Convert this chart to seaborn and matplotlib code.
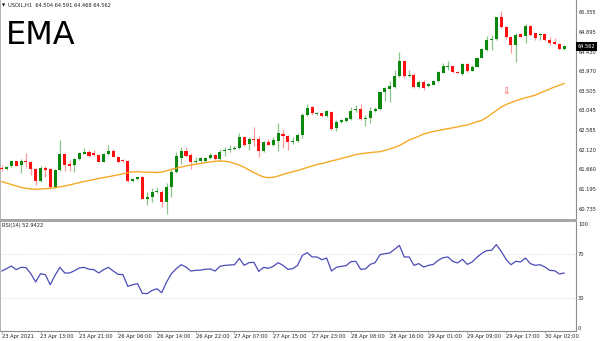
import numpy as np
import pandas as pd
import matplotlib
matplotlib.use("Agg")
import matplotlib.pyplot as plt
import matplotlib.transforms as mtransforms
from matplotlib.patches import Rectangle
import seaborn as sns

symbol = "USOIL,H1"
header_ohlc = ["64.504", "64.591", "64.468", "64.562"]
title = "EMA"
rsi_title = "RSI(14) 52.9422"
last_price = 64.562

opens = [61.713, 61.682, 61.744, 61.862, 61.768, 61.870, 61.854, 61.682, 61.400, 61.697,
         61.674, 61.251, 61.658, 62.034, 61.791, 61.768, 61.909, 62.042, 62.089, 62.065,
         62.011, 61.854, 62.034, 62.112, 61.971, 61.877, 61.870, 61.407, 61.454, 61.501,
         60.985, 61.016, 61.133, 61.149, 60.914, 61.267, 61.611, 61.950, 62.112, 62.003,
         61.846, 61.870, 61.870, 61.932, 62.003, 61.909, 62.097, 62.128, 62.144, 62.167,
         62.426, 62.261, 62.387, 62.379, 62.112, 62.316, 62.246, 62.347, 62.496, 62.457,
         62.316, 62.347, 62.481, 62.951, 63.131, 62.966, 62.990, 62.927, 63.021, 62.637,
         62.794, 62.817, 62.865, 63.068, 63.084, 62.865, 62.872, 63.052, 63.084, 63.491,
         63.569, 63.616, 63.867, 64.227, 63.859, 63.891, 63.601, 63.734, 63.640, 63.664,
         63.750, 63.945, 64.087, 64.102, 63.969, 63.914, 64.141, 63.992, 64.087, 64.298,
         64.478, 64.721, 64.729, 65.246, 65.011, 64.776, 64.596, 64.846, 64.807, 65.042,
         64.870, 64.831, 64.846, 64.713, 64.658, 64.627, 64.504]
closes = [61.689, 61.729, 61.870, 61.760, 61.862, 61.838, 61.682, 61.400, 61.697, 61.666,
          61.266, 61.658, 62.034, 61.776, 61.760, 61.909, 62.050, 62.081, 61.987, 62.011,
          61.854, 62.034, 62.112, 61.971, 61.854, 61.862, 61.400, 61.454, 61.486, 60.977,
          61.031, 61.133, 61.172, 60.914, 61.267, 61.619, 61.987, 62.112, 61.987, 61.854,
          61.877, 61.932, 61.932, 62.011, 61.909, 62.089, 62.128, 62.159, 62.183, 62.426,
          62.246, 62.387, 62.371, 62.112, 62.316, 62.253, 62.355, 62.520, 62.465, 62.324,
          62.347, 62.481, 62.951, 63.107, 62.990, 62.998, 62.927, 63.037, 62.630, 62.794,
          62.833, 62.880, 63.052, 63.092, 62.849, 62.888, 63.045, 63.099, 63.491, 63.577,
          63.632, 63.867, 64.227, 63.867, 63.891, 63.616, 63.726, 63.593, 63.671, 63.750,
          63.969, 64.102, 64.102, 63.969, 63.945, 64.141, 63.985, 64.087, 64.298, 64.494,
          64.713, 64.737, 65.246, 65.011, 64.776, 64.596, 64.831, 64.791, 65.042, 64.831,
          64.768, 64.846, 64.713, 64.650, 64.627, 64.502, 64.562]
highs = [61.776, 61.752, 61.877, 61.870, 61.909, 62.050, 61.877, 61.697, 61.752, 61.752,
         61.697, 61.682, 62.363, 62.065, 61.893, 61.932, 62.089, 62.183, 62.128, 62.128,
         62.026, 62.065, 62.246, 62.144, 61.987, 61.909, 61.877, 61.478, 61.501, 61.517,
         61.149, 61.227, 61.267, 61.188, 61.345, 61.697, 62.089, 62.191, 62.191, 62.050,
         61.956, 61.956, 61.956, 62.050, 62.026, 62.144, 62.206, 62.246, 62.222, 62.520,
         62.457, 62.426, 62.661, 62.457, 62.347, 62.379, 62.441, 62.755, 62.614, 62.481,
         62.426, 62.520, 62.990, 63.209, 63.162, 63.021, 63.006, 63.068, 63.037, 62.833,
         62.865, 62.912, 63.131, 63.186, 63.209, 62.951, 63.131, 63.131, 63.522, 63.616,
         63.757, 64.008, 64.439, 64.243, 64.008, 63.930, 63.773, 63.773, 63.695, 63.773,
         63.992, 64.180, 64.220, 64.118, 63.985, 64.165, 64.180, 64.125, 64.321, 64.517,
         64.807, 64.831, 65.261, 65.395, 65.042, 64.807, 64.870, 64.870, 65.081, 65.066,
         64.885, 64.870, 64.870, 64.791, 64.768, 64.643, 64.591]
lows = [61.642, 61.658, 61.736, 61.752, 61.595, 61.736, 61.541, 61.306, 61.384, 61.501,
        61.204, 61.227, 61.642, 61.642, 61.635, 61.619, 61.893, 62.034, 61.971, 61.987,
        61.838, 61.838, 62.011, 61.956, 61.830, 61.846, 61.384, 61.384, 61.423, 60.969,
        60.836, 60.914, 61.110, 60.797, 60.624, 61.031, 61.595, 61.799, 61.956, 61.674,
        61.815, 61.854, 61.854, 61.909, 61.893, 61.877, 61.987, 62.089, 62.128, 62.152,
        62.222, 62.128, 62.222, 61.972, 62.089, 62.238, 62.222, 62.112, 62.167, 62.128,
        62.269, 62.324, 62.402, 62.927, 62.951, 62.951, 62.912, 62.896, 62.598, 62.582,
        62.770, 62.794, 62.833, 63.029, 62.833, 62.692, 62.755, 63.029, 63.068, 63.287,
        63.264, 63.577, 63.851, 63.812, 63.836, 63.593, 63.577, 63.538, 63.601, 63.648,
        63.734, 63.930, 64.008, 63.945, 63.930, 63.891, 63.969, 63.977, 64.071, 64.282,
        64.462, 64.478, 64.713, 64.995, 64.729, 64.400, 64.204, 64.776, 64.650, 64.807,
        64.713, 64.713, 64.697, 64.596, 64.596, 64.478, 64.468]
ema = [61.388, 61.352, 61.317, 61.282, 61.251, 61.228, 61.212, 61.204, 61.209, 61.218,
       61.228, 61.244, 61.263, 61.282, 61.306, 61.334, 61.362, 61.388, 61.411, 61.435,
       61.458, 61.479, 61.500, 61.522, 61.545, 61.569, 61.595, 61.616, 61.620, 61.611,
       61.604, 61.604, 61.599, 61.611, 61.639, 61.670, 61.700, 61.728, 61.752, 61.775,
       61.794, 61.813, 61.832, 61.848, 61.862, 61.870, 61.865, 61.846, 61.811, 61.775,
       61.721, 61.658, 61.599, 61.541, 61.494, 61.477, 61.487, 61.517, 61.552, 61.588,
       61.618, 61.646, 61.681, 61.717, 61.752, 61.787, 61.811, 61.839, 61.870, 61.898,
       61.928, 61.959, 61.987, 62.020, 62.039, 62.053, 62.067, 62.079, 62.088, 62.119,
       62.152, 62.187, 62.234, 62.297, 62.363, 62.405, 62.452, 62.504, 62.537, 62.563,
       62.586, 62.607, 62.629, 62.650, 62.673, 62.697, 62.718, 62.756, 62.791, 62.826,
       62.892, 62.974, 63.056, 63.139, 63.197, 63.244, 63.284, 63.322, 63.355, 63.385,
       63.416, 63.468, 63.515, 63.562, 63.609, 63.651, 63.691]
rsi = [54.7, 56.9, 59.3, 56.0, 58.1, 57.8, 52.3, 44.7, 52.3, 51.4,
       42.2, 50.8, 58.1, 52.9, 52.9, 55.0, 57.5, 58.1, 56.3, 56.0,
       52.9, 56.0, 58.1, 54.7, 51.7, 51.4, 40.7, 42.2, 43.1, 34.3,
       34.0, 37.0, 38.5, 34.9, 44.7, 52.3, 56.9, 60.5, 58.4, 54.7,
       55.3, 55.6, 56.3, 56.6, 54.7, 59.0, 59.9, 60.2, 60.5, 66.3,
       59.9, 62.4, 62.7, 54.4, 58.1, 57.2, 59.0, 62.4, 59.9, 56.3,
       56.9, 59.8, 69.1, 71.5, 67.6, 67.6, 65.1, 66.6, 54.7, 58.1,
       59.0, 59.6, 63.3, 63.6, 56.3, 56.6, 60.8, 62.4, 69.7, 70.6,
       71.2, 74.6, 78.2, 67.6, 67.6, 59.9, 61.5, 58.4, 59.9, 60.8,
       64.5, 66.9, 67.6, 63.6, 62.1, 65.4, 60.8, 63.0, 67.3, 70.9,
       73.4, 73.7, 78.9, 72.7, 65.4, 60.5, 63.6, 63.0, 66.6, 61.5,
       59.9, 60.5, 58.4, 55.3, 55.0, 52.0, 52.94]
price_ticks = [65.355, 64.895, 64.430, 63.970, 63.505, 63.045, 62.585, 62.120, 61.660, 61.195, 60.735]
rsi_levels = [70, 30]
rsi_ticks = [100, 70, 30, 0]
time_labels = ["23 Apr 2021", "23 Apr 13:00", "23 Apr 21:00", "26 Apr 06:00", "26 Apr 14:00",
               "26 Apr 22:00", "27 Apr 07:00", "27 Apr 15:00", "27 Apr 23:00", "28 Apr 08:00",
               "28 Apr 16:00", "29 Apr 01:00", "29 Apr 09:00", "29 Apr 17:00", "30 Apr 02:00"]
arrow_bar = 104
arrow_price = 63.48

# ---------------------------------------------------------------------------
sns.set_theme(style="white")
plt.rcParams["font.family"] = ["DejaVu Sans"]

W, H = 600, 341
fig = plt.figure(figsize=(W / 100, H / 100), dpi=100)
fig.patch.set_facecolor("white")

def fx(px):
    return px / W

def fy(py):
    return 1 - py / H

plot_w = 576
ax = fig.add_axes([0, fy(218), fx(plot_w), 218 / H])
ax2 = fig.add_axes([0, fy(331), fx(plot_w), (331 - 222) / H])

n = len(opens)
df = pd.DataFrame({"bar": np.arange(n), "open": opens, "high": highs, "low": lows,
                   "close": closes, "ema": ema, "rsi": rsi})
df["up"] = df["close"] >= df["open"]

GREEN = "#0b870b"
RED = "#ff1010"
GREEN_W = "#8cc48c"
RED_W = "#ff9a9a"

# wicks
for up, wc in [(True, GREEN_W), (False, RED_W)]:
    d = df[df["up"] == up]
    ax.vlines(d["bar"], d["low"], d["high"], color=wc, linewidth=0.9, zorder=2)
# bodies
bottoms = np.minimum(df["open"], df["close"])
heights = np.maximum((df["close"] - df["open"]).abs(), 0.022)
colors = [GREEN if u else RED for u in df["up"]]
ax.bar(df["bar"], heights, bottom=bottoms, width=0.62, color=colors, linewidth=0, zorder=3)

sns.lineplot(data=df, x="bar", y="ema", ax=ax, color="#f7a928", linewidth=1.0, zorder=4, legend=False)

ax.text(arrow_bar, arrow_price, "\u21e9", color="#ff3b3b", fontsize=6.5, ha="center", va="center", zorder=5)

xl = (-1.7 / 4.85, (plot_w - 1.7) / 4.85)
ax.set_xlim(*xl)
ax.set_ylim(65.653 - 218 * 0.0235, 65.653)
ax.set_xlabel("")
ax.set_ylabel("")
ax.set_xticks([])
ax.set_yticks([])
for s in ["top", "bottom"]:
    ax.spines[s].set_visible(False)
ax.spines["left"].set_color("#a8a8a8")
ax.spines["left"].set_linewidth(1.2)
ax.spines["right"].set_color("#8c8c8c")
ax.spines["right"].set_linewidth(0.8)

# RSI panel
sns.lineplot(data=df, x="bar", y="rsi", ax=ax2, color="#4b4bb8", linewidth=0.9, legend=False)
for lv in rsi_levels:
    ax2.axhline(lv, color="#c8c8c8", linewidth=0.6, linestyle=(0, (1, 2)), zorder=0)
ax2.set_xlim(*xl)
ax2.set_ylim(-0.2, 99.6)
ax2.set_xlabel("")
ax2.set_ylabel("")
ax2.set_yticks([])
ax2.spines["top"].set_visible(False)
ax2.spines["left"].set_color("#a8a8a8")
ax2.spines["left"].set_linewidth(1.2)
ax2.spines["right"].set_color("#8c8c8c")
ax2.spines["right"].set_linewidth(0.8)
ax2.spines["bottom"].set_color("#8c8c8c")
ax2.spines["bottom"].set_linewidth(0.8)
tick_bars = np.arange(len(time_labels)) * 8
ax2.set_xticks(tick_bars)
ax2.set_xticklabels(time_labels, ha="left", fontsize=3.7, color="#202020")
ax2.tick_params(axis="x", length=1.6, width=0.5, color="#808080", pad=0.8, bottom=True)

# separator between panels
fig.patches.append(Rectangle((0, fy(222)), fx(577), 3 / H, transform=fig.transFigure,
                             facecolor="#a6a6a6", edgecolor="none"))

# price scale
tr = mtransforms.blended_transform_factory(fig.transFigure, ax.transData)
for p in price_ticks:
    fig.text(fx(579), p, f"{p:.3f}", transform=tr, fontsize=3.7, color="#202020",
             ha="left", va="center")
fig.text(fx(577.5), last_price, f"{last_price:.3f}", transform=tr, fontsize=3.7, color="white",
         ha="left", va="center",
         bbox=dict(boxstyle="square,pad=0.35", facecolor="black", edgecolor="none"))

tr2 = mtransforms.blended_transform_factory(fig.transFigure, ax2.transData)
for v in rsi_ticks:
    va = "center"
    if v == 100:
        va = "top"
    elif v == 0:
        va = "bottom"
    fig.text(fx(578), v, f"{v}", transform=tr2, fontsize=3.7, color="#202020", ha="left", va=va)

# header & titles
fig.text(fx(2), fy(5.5), "\u25bc", fontsize=3, color="black", ha="left", va="center")
fig.text(fx(8), fy(5.5), f"{symbol}  " + " ".join(header_ohlc), fontsize=3.7,
         color="#202020", ha="left", va="center")
fig.text(fx(6), fy(43.5), title, fontsize=23, color="black", ha="left", va="baseline")
fig.text(fx(2), fy(226), rsi_title, fontsize=3.7, color="#202020", ha="left", va="center")

fig.savefig("out.png", dpi=100, facecolor="white")
